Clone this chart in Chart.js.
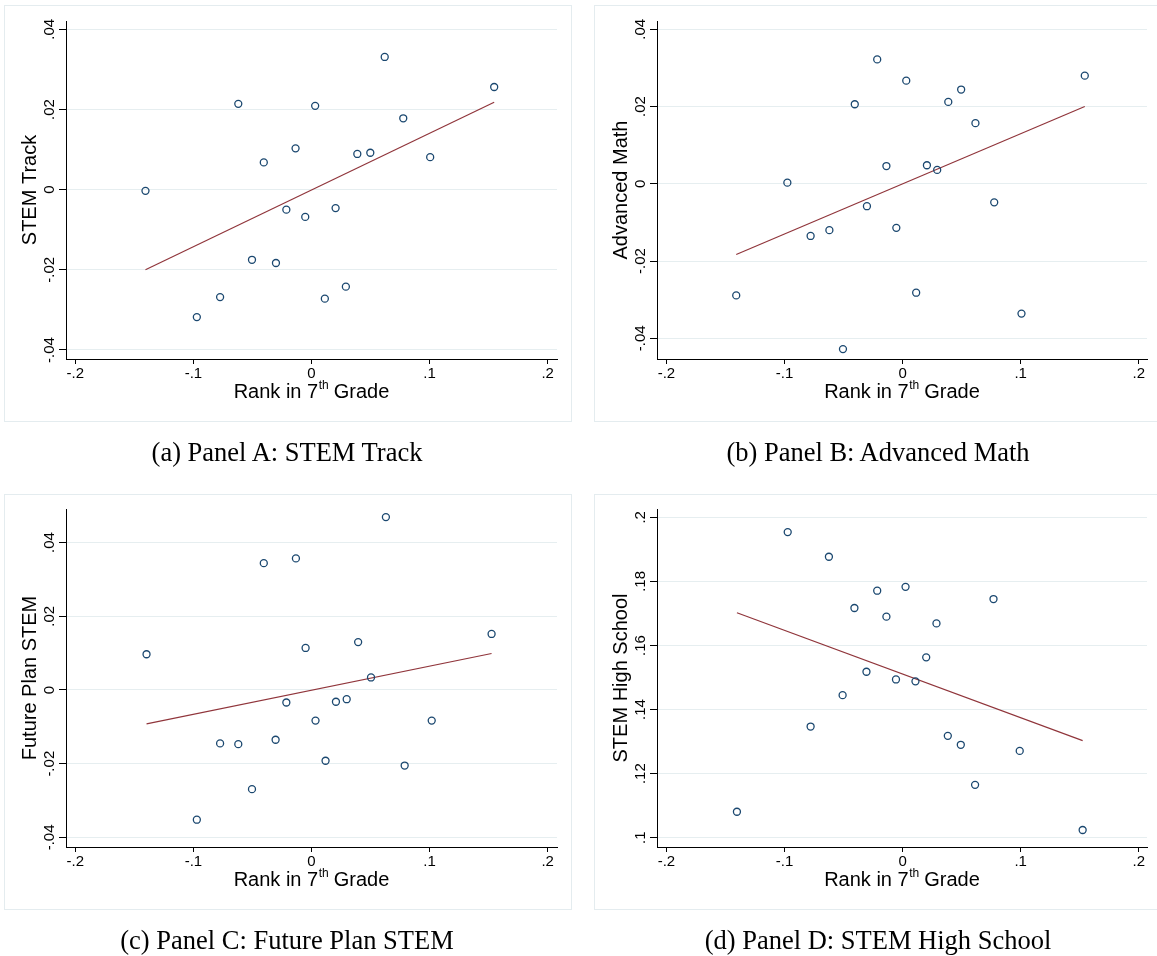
<!DOCTYPE html>
<html><head><meta charset="utf-8">
<script src="https://cdn.jsdelivr.net/npm/chart.js@4.4.0/dist/chart.umd.min.js"></script>
<style>
html,body{margin:0;padding:0;background:#fff;}
body{width:1157px;height:956px;position:relative;overflow:hidden;}
.frame{position:absolute;border:1px solid #e4ecef;box-sizing:border-box;}
canvas{position:absolute;}
.cap{position:absolute;font-family:'Liberation Serif','Times New Roman',serif;font-size:26.5px;line-height:30px;color:#000;text-align:center;white-space:nowrap;width:560px;}
</style></head><body>
<div class="frame" style="left:4px;top:5px;width:568px;height:417px"></div>
<div class="frame" style="left:594px;top:5px;width:600px;height:417px"></div>
<div class="frame" style="left:4px;top:494px;width:568px;height:416px"></div>
<div class="frame" style="left:594px;top:494px;width:600px;height:416px"></div>
<canvas id="cA" width="578" height="470" style="left:0;top:0;width:578px;height:470px"></canvas>
<canvas id="cB" width="579" height="470" style="left:578px;top:0;width:579px;height:470px"></canvas>
<canvas id="cC" width="578" height="486" style="left:0;top:470px;width:578px;height:486px"></canvas>
<canvas id="cD" width="579" height="486" style="left:578px;top:470px;width:579px;height:486px"></canvas>
<div class="cap" style="left:7px;top:437px">(a) Panel A: STEM Track</div>
<div class="cap" style="left:598px;top:437px">(b) Panel B: Advanced Math</div>
<div class="cap" style="left:7px;top:925px">(c) Panel C: Future Plan STEM</div>
<div class="cap" style="left:598px;top:925px">(d) Panel D: STEM High School</div>
<script>
// ---------- data ----------
const xTitle = ['Rank in 7', 'th', ' Grade'];
const tickX = [-0.2, -0.1, 0, 0.1, 0.2];
const tickXLabels = ['-.2', '-.1', '0', '.1', '.2'];
const tickYSmall = [-0.04, -0.02, 0, 0.02, 0.04];
const tickYSmallLabels = ['-.04', '-.02', '0', '.02', '.04'];
const tickYD = [0.1, 0.12, 0.14, 0.16, 0.18, 0.2];
const tickYDLabels = ['.1', '.12', '.14', '.16', '.18', '.2'];

const titles = ['STEM Track', 'Advanced Math', 'Future Plan STEM', 'STEM High School'];

const rankA = [-.1406,-.0971,-.0774,-.0620,-.0504,-.0404,-.0301,-.0213,-.0135,-.0053,.0031,.0113,.0204,.0291,.0388,.0498,.0620,.0777,.1005,.1547];
const stemTrack = [-.0003,-.0318,-.0268,.0214,-.0175,.0068,-.0183,-.0050,.0103,-.0068,.0209,-.0272,-.0046,-.0242,.0089,.0092,.0331,.0178,.0081,.0256];
const fitAx = [-.1406, .1547];
const fitAy = [-.0200, .0218];

const rankB = [-.1409,-.0976,-.0779,-.0620,-.0505,-.0405,-.0302,-.0215,-.0137,-.0053,.0031,.0115,.0206,.0293,.0387,.0496,.0617,.0776,.1007,.1543];
const advMath = [-.0289,.0003,-.0135,-.0120,-.0428,.0206,-.0058,.0322,.0046,-.0114,.0267,-.0282,.0048,.0036,.0212,.0244,.0157,-.0048,-.0336,.0280];
const fitBx = [-.1409, .1543];
const fitBy = [-.0183, .0200];

const rankC = [-.1397,-.0971,-.0774,-.0620,-.0504,-.0404,-.0304,-.0213,-.0132,-.0050,.0034,.0119,.0207,.0298,.0395,.0504,.0630,.0789,.1018,.1525];
const futurePlan = [.0097,-.0352,-.0145,-.0147,-.0269,.0344,-.0135,-.0034,.0357,.0114,-.0083,-.0192,-.0032,-.0025,.0130,.0034,.0469,-.0205,-.0083,.0152];
const fitCx = [-.1397, .1525];
const fitCy = [-.0092, .0099];

const rankD = [-.1403,-.0973,-.0779,-.0624,-.0508,-.0408,-.0306,-.0215,-.0137,-.0056,.0025,.0109,.0200,.0287,.0383,.0493,.0614,.0770,.0992,.1525];
const stemHS = [.1081,.1954,.1347,.1877,.1445,.1717,.1518,.1771,.1690,.1494,.1783,.1488,.1563,.1669,.1318,.1290,.1165,.1745,.1271,.1024];
const fitDx = [-.1403, .1525];
const fitDy = [.1702, .1303];

// ---------- drawing ----------
const SANS = '"Liberation Sans", Arial, sans-serif';
const NAVY = '#1a476f', MAROON = '#90353b', GRID = '#e6eef0';

const decor = {
  id: 'decor',
  afterDraw(chart, args, o) {
    const ctx = chart.ctx, ys = chart.scales.y, ca = chart.chartArea;
    ctx.save();
    ctx.fillStyle = '#000';
    ctx.font = '15px ' + SANS;
    ctx.textAlign = 'center';
    ctx.textBaseline = 'alphabetic';
    o.yTicks.forEach((v, i) => {
      const py = ys.getPixelForValue(v);
      ctx.save();
      ctx.translate(ca.left - 12, py);
      ctx.rotate(-Math.PI / 2);
      ctx.fillText(o.yLabels[i], 0, 0);
      ctx.restore();
    });
    ctx.font = '20px ' + SANS;
    ctx.save();
    ctx.translate(ca.left - 30, (ca.top + ca.bottom) / 2);
    ctx.rotate(-Math.PI / 2);
    ctx.fillText(o.yTitle, 0, 0);
    ctx.restore();
    // x title with superscript
    ctx.textAlign = 'left';
    const cx = (ca.left + ca.right) / 2, base = ca.bottom + 38.5;
    ctx.font = '20px ' + SANS;
    const w1 = ctx.measureText(xTitle[0]).width, w3 = ctx.measureText(xTitle[2]).width;
    ctx.font = '12px ' + SANS;
    const w2 = ctx.measureText(xTitle[1]).width;
    const x0 = cx - (w1 + w2 + w3) / 2;
    ctx.font = '20px ' + SANS;
    ctx.fillText(xTitle[0], x0, base);
    ctx.font = '12px ' + SANS;
    ctx.fillText(xTitle[1], x0 + w1 + 0.5, base - 9);
    ctx.font = '20px ' + SANS;
    ctx.fillText(xTitle[2], x0 + w1 + w2, base);
    ctx.restore();
  }
};

function labelFor(values, labels, v) {
  const i = values.findIndex(t => Math.abs(t - v) < 1e-9);
  return i >= 0 ? labels[i] : '';
}

function makePanel(p) {
  return new Chart(document.getElementById(p.id), {
    type: 'scatter',
    data: {
      datasets: [
        { type: 'scatter', data: p.x.map((x, i) => ({ x, y: p.y[i] })), pointStyle: 'circle',
          pointRadius: 3.5, borderColor: NAVY, backgroundColor: 'rgba(255,255,255,0)', borderWidth: 1.3 },
        { type: 'line', data: p.fx.map((x, i) => ({ x, y: p.fy[i] })), borderColor: MAROON,
          borderWidth: 1.2, pointRadius: 0, fill: false, tension: 0 }
      ]
    },
    options: {
      responsive: false, animation: false, events: [],
      layout: { padding: { left: 0, top: p.top, right: p.right, bottom: 0 } },
      plugins: {
        legend: { display: false }, tooltip: { enabled: false },
        decor: { yTicks: p.yTicks, yLabels: p.yLabels, yTitle: p.title }
      },
      scales: {
        x: {
          type: 'linear', position: 'bottom', min: p.xMin, max: p.xMax,
          afterBuildTicks: s => { s.ticks = tickX.map(v => ({ value: v })); },
          afterFit: s => { s.height = p.xh; },
          grid: { drawOnChartArea: false, tickLength: 5, tickColor: '#000', tickWidth: 1 },
          border: { display: true, color: '#000', width: 1 },
          ticks: { color: '#000', font: { family: SANS, size: 15 }, padding: 1, maxRotation: 0, autoSkip: false,
                   callback: v => labelFor(tickX, tickXLabels, v) },
          title: { display: false }
        },
        y: {
          type: 'linear', position: 'left', min: p.yMin, max: p.yMax,
          afterBuildTicks: s => { s.ticks = p.yTicks.map(v => ({ value: v })); },
          afterFit: s => { s.width = p.left; },
          grid: { color: GRID, lineWidth: 1, tickLength: 7, tickColor: '#000', tickWidth: 1 },
          border: { display: true, color: '#000', width: 1 },
          ticks: { display: false },
          title: { display: false }
        }
      }
    },
    plugins: [decor]
  });
}

makePanel({ id: 'cA', x: rankA, y: stemTrack, fx: fitAx, fy: fitAy, title: titles[0],
  yTicks: tickYSmall, yLabels: tickYSmallLabels, xMin: -0.2079, xMax: 0.2079, yMin: -0.04225, yMax: 0.04207,
  left: 66, right: 21, top: 21, xh: 111 });
makePanel({ id: 'cB', x: rankB, y: advMath, fx: fitBx, fy: fitBy, title: titles[1],
  yTicks: tickYSmall, yLabels: tickYSmallLabels, xMin: -0.2080, xMax: 0.2070, yMin: -0.04536, yMax: 0.04215,
  left: 79, right: 10, top: 21, xh: 111 });
makePanel({ id: 'cC', x: rankC, y: futurePlan, fx: fitCx, fy: fitCy, title: titles[2],
  yTicks: tickYSmall, yLabels: tickYSmallLabels, xMin: -0.2079, xMax: 0.2079, yMin: -0.0426, yMax: 0.0491,
  left: 66, right: 21, top: 39, xh: 109 });
makePanel({ id: 'cD', x: rankD, y: stemHS, fx: fitDx, fy: fitDy, title: titles[3],
  yTicks: tickYD, yLabels: tickYDLabels, xMin: -0.2080, xMax: 0.2070, yMin: 0.0971, yMax: 0.2026,
  left: 79, right: 10, top: 39, xh: 109 });
</script>
</body></html>
